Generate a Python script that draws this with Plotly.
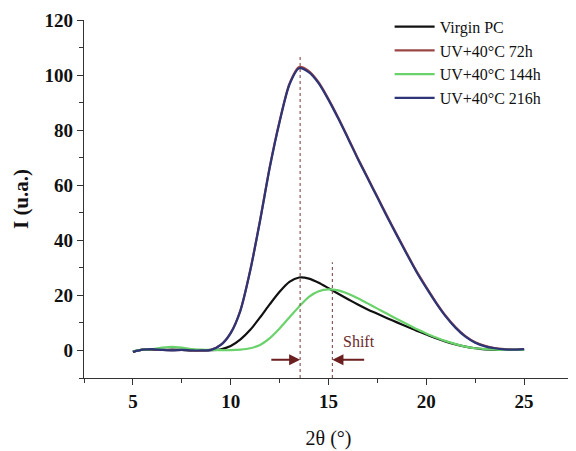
import plotly.graph_objects as go

two_theta = [5, 5.5, 6, 6.5, 7, 7.5, 8, 8.5, 9, 9.5, 10, 10.5, 11, 11.5, 12, 12.5,
             13, 13.5, 14, 14.5, 15, 15.5, 16, 16.5, 17, 17.5, 18, 18.5, 19, 19.5,
             20, 20.5, 21, 21.5, 22, 22.5, 23, 23.5, 24, 24.5, 25]

virgin = [-0.5, 0.3, 0.3, 0.2, 0.3, 0.2, 0.0, 0.0, 0.1, 0.4, 1.6, 4.0, 7.5, 12.0, 16.8, 21.3,
          24.9, 26.5, 26.1, 24.6, 22.6, 20.6, 18.6, 16.7, 14.9, 13.3, 11.7, 10.2, 8.7, 7.2,
          5.8, 4.4, 3.2, 2.2, 1.4, 0.8, 0.4, 0.2, 0.2, 0.2, 0.5]

uv72 = [-0.4, 0.3, 0.5, 0.2, 0.1, 0.2, 0.0, 0.0, 0.3, 2.1, 6.4, 14.7, 29.2, 47.3, 66.8, 83.3,
        96.8, 102.9, 101.4, 97.3, 91.3, 84.5, 77.2, 69.8, 62.8, 55.8, 48.8, 42.0, 35.3, 28.8,
        23.0, 17.5, 12.5, 8.4, 5.2, 3.0, 1.7, 0.9, 0.5, 0.3, 0.5]

uv144 = [-0.3, 0.3, 0.5, 1.0, 1.3, 1.0, 0.5, 0.3, 0.2, 0.1, 0.1, 0.3, 0.8, 2.0, 4.5, 8.0,
         12.0, 16.0, 19.5, 21.5, 22.2, 21.8, 20.6, 19.0, 17.1, 15.2, 13.3, 11.4, 9.6, 7.8,
         6.2, 4.7, 3.4, 2.3, 1.4, 0.8, 0.5, 0.3, 0.2, 0.2, 0.3]

uv216 = [-0.5, 0.3, 0.5, 0.2, 0.0, 0.2, 0.0, 0.0, 0.2, 2.0, 6.3, 14.5, 29.0, 47.0, 66.5, 83.0,
         96.5, 102.5, 101.0, 97.0, 91.0, 84.2, 77.0, 69.5, 62.5, 55.5, 48.5, 41.7, 35.0, 28.5,
         22.7, 17.2, 12.3, 8.2, 5.0, 2.8, 1.5, 0.8, 0.4, 0.3, 0.5]

series_names = ["Virgin PC", "UV+40°C 72h", "UV+40°C 144h", "UV+40°C 216h"]
series_values = [virgin, uv72, uv144, uv216]
series_colors = ["#111111", "#9A4646", "#6AD26A", "#2E3577"]

peak_positions = [13.55, 15.2]
peak_tops = [107, 32]
x_ticks = [5, 10, 15, 20, 25]
y_ticks = [0, 20, 40, 60, 80, 100, 120]

fig = go.Figure()
for name, vals, col in zip(series_names, series_values, series_colors):
    fig.add_trace(go.Scatter(x=two_theta, y=vals, name=name, mode="lines",
                             line=dict(color=col, width=2.2, shape="spline", smoothing=0.7)))

for xp, top in zip(peak_positions, peak_tops):
    fig.add_trace(go.Scatter(x=[xp, xp], y=[-10, top], mode="lines", showlegend=False,
                             line=dict(color="#8A5A5A", width=1.2, dash="dot"),
                             hoverinfo="skip"))

arrow_col = "#6B1F1F"
fig.add_annotation(x=peak_positions[0], y=-3.4, ax=12.0, ay=-3.4, xref="x", yref="y",
                   axref="x", ayref="y", showarrow=True, arrowhead=2, arrowsize=1.1,
                   arrowwidth=2, arrowcolor=arrow_col, text="")
fig.add_annotation(x=peak_positions[1], y=-3.4, ax=16.9, ay=-3.4, xref="x", yref="y",
                   axref="x", ayref="y", showarrow=True, arrowhead=2, arrowsize=1.1,
                   arrowwidth=2, arrowcolor=arrow_col, text="")
fig.add_annotation(x=16.55, y=3.4, xref="x", yref="y", text="Shift", showarrow=False,
                   font=dict(family="Liberation Serif", size=16, color="#6B2A2A"))

serif = "Liberation Serif"
fig.update_layout(
    width=568, height=443,
    margin=dict(l=76, r=3, t=11, b=73),
    plot_bgcolor="white", paper_bgcolor="white",
    font=dict(family=serif, color="#111111"),
    legend=dict(x=0.625, y=1.026, xanchor="left", yanchor="top",
                font=dict(family=serif, size=16, color="#111111"),
                bgcolor="rgba(0,0,0,0)", tracegroupgap=0, itemwidth=40),
    xaxis=dict(range=[2.5, 27.5], tickvals=x_ticks, ticks="outside", ticklen=6,
               tickwidth=1.3, tickcolor="#333", showline=True, linecolor="#333",
               linewidth=1.3, showgrid=False, zeroline=False, automargin=False,
               minor=dict(dtick=2.5, tick0=2.5, ticks="outside", ticklen=4,
                          tickcolor="#333", tickwidth=1.3),
               tickfont=dict(family=serif, size=19, color="#111", weight="bold"),
               title=dict(text="2θ (°)", font=dict(family=serif, size=20, color="#111"),
                          standoff=20)),
    yaxis=dict(range=[-10, 120], tickvals=y_ticks, ticks="outside", ticklen=6,
               tickwidth=1.3, tickcolor="#333", showline=True, linecolor="#333",
               linewidth=1.3, showgrid=False, zeroline=False, automargin=False,
               minor=dict(dtick=10, tick0=-10, ticks="outside", ticklen=4,
                          tickcolor="#333", tickwidth=1.3),
               tickfont=dict(family=serif, size=19, color="#111", weight="bold"),
               title=dict(text="<b>I (u.a.)</b>", font=dict(family=serif, size=21, color="#111"),
                          standoff=10)),
)

fig.write_html("out.html")
